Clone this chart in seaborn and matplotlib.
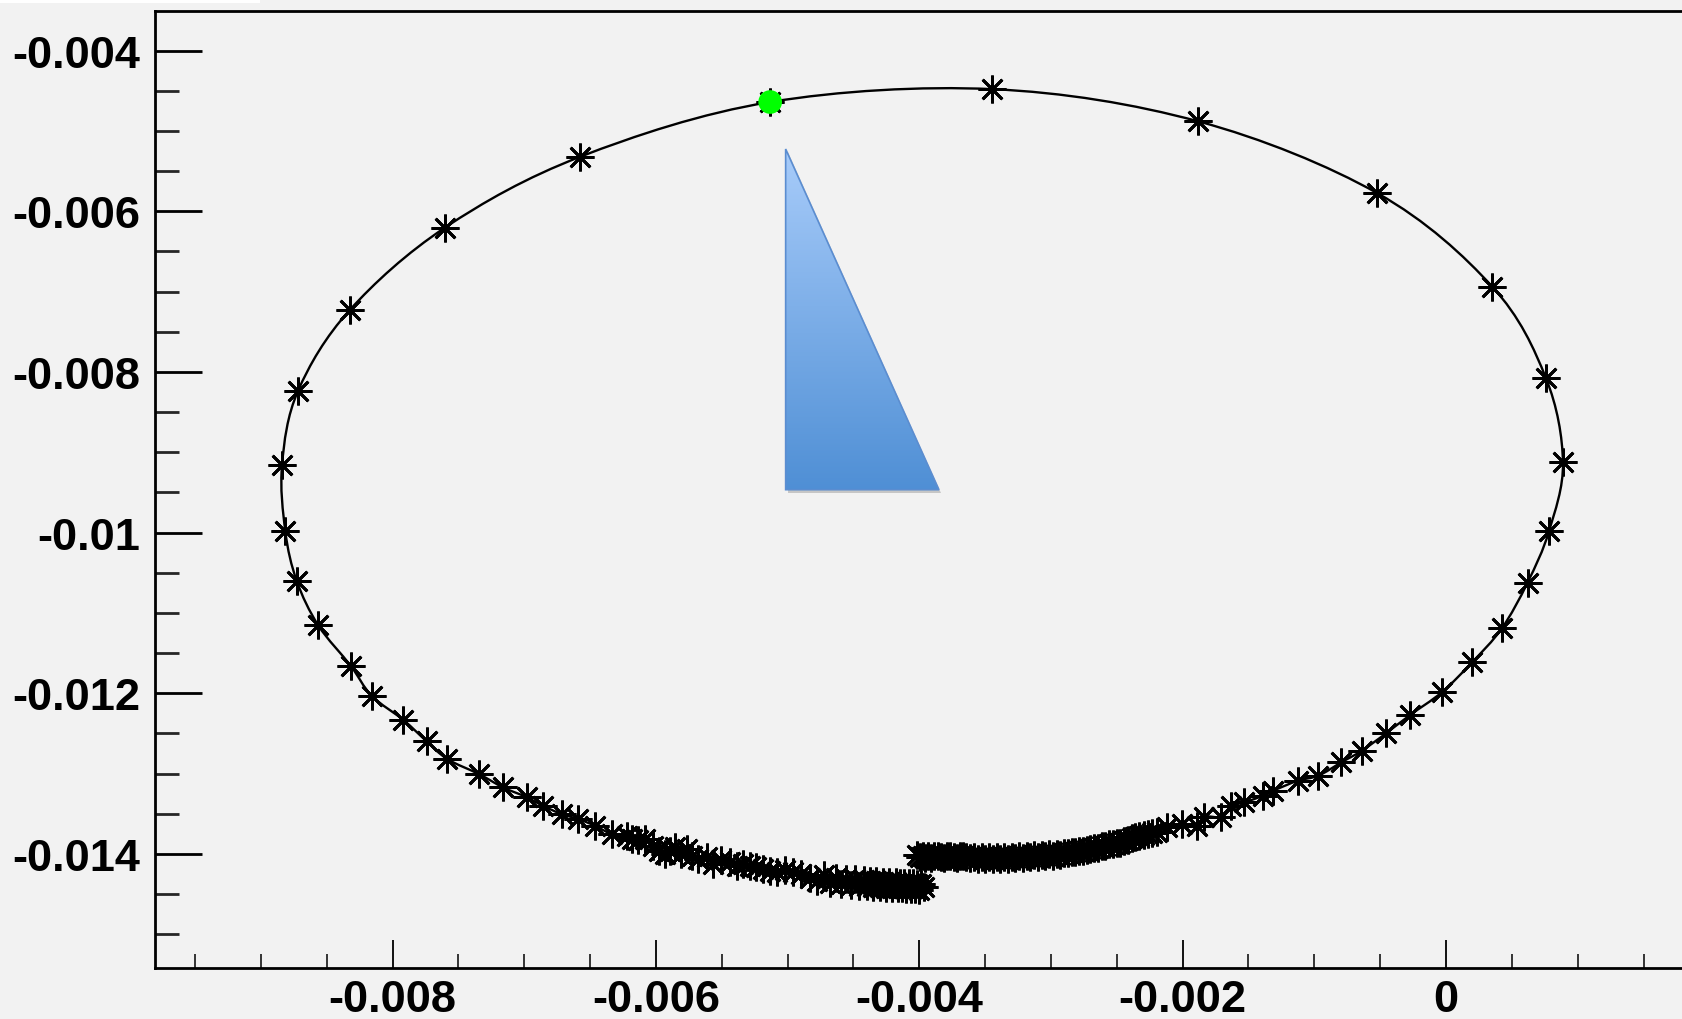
import numpy as np
import matplotlib
matplotlib.use("Agg")
import matplotlib.pyplot as plt
import matplotlib.ticker as mticker
from matplotlib.patches import Polygon, Rectangle, PathPatch
from matplotlib.path import Path
import matplotlib.transforms as mtransforms
import seaborn as sns

# ---------------- data ----------------
# lower-left end -> round the left side -> up to the highlighted point
left_x = [
    -0.0039674, -0.0039837, -0.0040000, -0.0040163, -0.0040326, -0.0040489, -0.0040652, -0.0040814,
    -0.0040977, -0.0041140, -0.0041303, -0.0041466, -0.0041629, -0.0041792, -0.0042036, -0.0042281,
    -0.0042525, -0.0042770, -0.0043014, -0.0043258, -0.0043503, -0.0043747, -0.0043992, -0.0044236,
    -0.0044562, -0.0044888, -0.0045214, -0.0045539, -0.0045947, -0.0046354, -0.0046762, -0.0047250,
    -0.0047739, -0.0048309, -0.0048961, -0.0049572, -0.0050224, -0.0050835, -0.0051324, -0.0051845,
    -0.0052383, -0.0052855, -0.0053360, -0.0053865, -0.0054379, -0.0055030, -0.0055641, -0.0056146,
    -0.0056782, -0.0057230, -0.0057662, -0.0058126, -0.0058558, -0.0058941, -0.0059307, -0.0059755,
    -0.0060203, -0.0060831, -0.0061344, -0.0061841, -0.0062224, -0.0063364, -0.0064627, -0.0065906,
    -0.0067161, -0.0068603, -0.0069816, -0.0071593, -0.0073442, -0.0075845, -0.0077409, -0.0079185,
    -0.0081588, -0.0083185, -0.0085637, -0.0087283, -0.0088146, -0.0088391, -0.0087169, -0.0083258,
    -0.0076008, -0.0065743,
]
left_y = [
    -0.0144138, -0.0143737, -0.0144538, -0.0143737, -0.0144405, -0.0143604, -0.0144405, -0.0143604,
    -0.0144405, -0.0143604, -0.0144271, -0.0143604, -0.0144271, -0.0143470, -0.0144271, -0.0143470,
    -0.0144271, -0.0143470, -0.0144138, -0.0143337, -0.0144138, -0.0143337, -0.0144004, -0.0143203,
    -0.0144004, -0.0143070, -0.0143871, -0.0143070, -0.0143737, -0.0142936, -0.0143604, -0.0142669,
    -0.0143337, -0.0142976, -0.0142469, -0.0142282, -0.0142002, -0.0142282, -0.0142135, -0.0141869,
    -0.0141668, -0.0141468, -0.0141201, -0.0141468, -0.0141041, -0.0140800, -0.0141255, -0.0140427,
    -0.0140627, -0.0140199, -0.0139391, -0.0139999, -0.0139177, -0.0139598, -0.0139999, -0.0139665,
    -0.0138976, -0.0138148, -0.0138263, -0.0138148, -0.0137729, -0.0137516, -0.0136488, -0.0135647,
    -0.0135033, -0.0133991, -0.0132925, -0.0131722, -0.0130053, -0.0128184, -0.0125981, -0.0123311,
    -0.0120306, -0.0116560, -0.0111561, -0.0105986, -0.0099812, -0.0091535, -0.0082323, -0.0072309,
    -0.0062029, -0.0053217,
]
# highlighted point (top of the orbit)
green_x = [-0.0051324]
green_y = [-0.0046409]
# over the top -> down the right side -> along the bottom to the lower-right end
right_x = [
    -0.0034460, -0.0018819, -0.0005214, 0.0003503, 0.0007576, 0.0008880, 0.0007821, 0.0006191,
    0.0004236, 0.0001971, -0.0000326, -0.0002737, -0.0004562, -0.0006403, -0.0007951, -0.0009694,
    -0.0011259, -0.0013116, -0.0013874, -0.0015316, -0.0016326, -0.0017083, -0.0018354, -0.0018933,
    -0.0020073, -0.0021214, -0.0021971, -0.0022322, -0.0022648, -0.0022973, -0.0023299, -0.0023584,
    -0.0023870, -0.0024155, -0.0024440, -0.0024725, -0.0025010, -0.0025295, -0.0025580, -0.0025866,
    -0.0026151, -0.0026436, -0.0026721, -0.0027006, -0.0027291, -0.0027576, -0.0027861, -0.0028147,
    -0.0028432, -0.0028717, -0.0029002, -0.0029287, -0.0029572, -0.0029857, -0.0030142, -0.0030428,
    -0.0030713, -0.0030998, -0.0031283, -0.0031568, -0.0031853, -0.0032138, -0.0032424, -0.0032709,
    -0.0032994, -0.0033279, -0.0033564, -0.0033849, -0.0034134, -0.0034419, -0.0034705, -0.0034990,
    -0.0035275, -0.0035560, -0.0035845, -0.0036130, -0.0036415, -0.0036660, -0.0036904, -0.0037149,
    -0.0037393, -0.0037637, -0.0037882, -0.0038126, -0.0038371, -0.0038615, -0.0038859, -0.0039104,
    -0.0039348, -0.0039552, -0.0039755, -0.0039959, -0.0040163,
]
right_y = [
    -0.0044806, -0.0048812, -0.0057757, -0.0069372, -0.0080721, -0.0091268, -0.0099812, -0.0106221,
    -0.0111922, -0.0116154, -0.0119879, -0.0122710, -0.0124993, -0.0127155, -0.0128597, -0.0130253,
    -0.0130881, -0.0132122, -0.0132750, -0.0133564, -0.0134071, -0.0135366, -0.0135366, -0.0136488,
    -0.0136261, -0.0136688, -0.0137302, -0.0137396, -0.0137462, -0.0137663, -0.0137729, -0.0137930,
    -0.0137996, -0.0138263, -0.0138397, -0.0138597, -0.0138664, -0.0138797, -0.0138797, -0.0138998,
    -0.0139064, -0.0139198, -0.0139198, -0.0139398, -0.0139465, -0.0139598, -0.0139598, -0.0139799,
    -0.0139732, -0.0139932, -0.0139866, -0.0140066, -0.0139999, -0.0140199, -0.0139999, -0.0140199,
    -0.0140133, -0.0140333, -0.0140133, -0.0140400, -0.0140266, -0.0140466, -0.0140266, -0.0140533,
    -0.0140400, -0.0140600, -0.0140400, -0.0140600, -0.0140400, -0.0140600, -0.0140400, -0.0140600,
    -0.0140400, -0.0140600, -0.0140400, -0.0140533, -0.0140400, -0.0140199, -0.0140266, -0.0140466,
    -0.0140400, -0.0140199, -0.0140266, -0.0140466, -0.0140400, -0.0140199, -0.0140266, -0.0140466,
    -0.0140266, -0.0140466, -0.0140266, -0.0140400, -0.0140133,
]

x_major = [-0.008, -0.006, -0.004, -0.002, 0.0]
x_labels = ["-0.008", "-0.006", "-0.004", "-0.002", "0"]
y_major = [-0.014, -0.012, -0.010, -0.008, -0.006, -0.004]
y_labels = ["-0.014", "-0.012", "-0.01", "-0.008", "-0.006", "-0.004"]

traj_x = left_x + green_x + right_x
traj_y = left_y + green_y + right_y

# ---------------- style ----------------
BG = "#f2f2f2"
sns.set_style("ticks")
plt.rcParams["font.family"] = ["Liberation Sans", "DejaVu Sans"]
plt.rcParams["font.weight"] = "bold"

W, H = 1682, 1020
fig = plt.figure(figsize=(W / 100, H / 100), dpi=100, facecolor=BG)
ax = fig.add_axes([155 / W, 51 / H, 1 - 155 / W, (969 - 12) / H])
ax.set_facecolor(BG)

# small white strip at the very top-left of the canvas
fig.patches.append(Rectangle((0, 1 - 4 / H), 260 / W, 4 / H, transform=fig.transFigure,
                             facecolor="white", edgecolor="none", zorder=0))

# smooth connecting curve through the measured points (cubic Bezier segments, like ROOT's "C" option)
P = np.column_stack([traj_x, traj_y])
verts = [tuple(P[0])]
codes = [Path.MOVETO]
n = len(P)
for i in range(n - 1):
    p0 = P[max(i - 1, 0)]
    p1 = P[i]
    p2 = P[i + 1]
    p3 = P[min(i + 2, n - 1)]
    c1 = p1 + (p2 - p0) / 6.0
    c2 = p2 - (p3 - p1) / 6.0
    verts += [tuple(c1), tuple(c2), tuple(p2)]
    codes += [Path.CURVE4, Path.CURVE4, Path.CURVE4]
curve = PathPatch(Path(verts, codes), facecolor="none", edgecolor="black", lw=1.7,
                  transform=ax.transData, zorder=3)
ax.add_patch(curve)

# asterisk markers
sns.lineplot(x=traj_x, y=traj_y, sort=False, estimator=None, color="black", linestyle="none",
             marker=(8, 2, 0), markersize=20, markeredgewidth=2.0, markeredgecolor="black",
             ax=ax, zorder=3.2)
sns.scatterplot(x=green_x, y=green_y, color="#00ff00", s=290, edgecolor="none", ax=ax, zorder=5)

# decorative gradient triangle (axes-fraction coordinates)
tri = [(0.4130, 0.8558), (0.4130, 0.4998), (0.5134, 0.4998)]
shadow = Polygon(tri, closed=True, facecolor="#000000", alpha=0.18, edgecolor="none",
                 transform=mtransforms.offset_copy(ax.transAxes, fig=fig, x=2, y=-3, units="dots"),
                 zorder=3.5)
ax.add_patch(shadow)
poly = Polygon(tri, closed=True, facecolor="none", edgecolor="#5b8dd0", lw=1.2,
               transform=ax.transAxes, zorder=4.2)
ax.add_patch(poly)
top_c = np.array([0xa8, 0xcc, 0xfa]) / 255
bot_c = np.array([0x4f, 0x8f, 0xd5]) / 255
t = np.linspace(0, 1, 256)[:, None]
grad = (top_c[None, :] * (1 - t) + bot_c[None, :] * t)[:, None, :]
im = ax.imshow(grad, extent=[0.4130, 0.5134, 0.4998, 0.8558], transform=ax.transAxes,
               aspect="auto", origin="upper", zorder=4, interpolation="bilinear")
clip = Polygon(tri, closed=True, transform=ax.transAxes, facecolor="none", edgecolor="none")
ax.add_patch(clip)
im.set_clip_path(clip)

# ---------------- axes ----------------
ax.set_xlim(-0.009804, 0.001792)
ax.set_ylim(-0.015419, -0.003508)

ax.xaxis.set_major_locator(mticker.FixedLocator(x_major))
ax.xaxis.set_major_formatter(mticker.FixedFormatter(x_labels))
ax.xaxis.set_minor_locator(mticker.MultipleLocator(0.0005))
ax.yaxis.set_major_locator(mticker.FixedLocator(y_major))
ax.yaxis.set_major_formatter(mticker.FixedFormatter(y_labels))
ax.yaxis.set_minor_locator(mticker.MultipleLocator(0.0005))

ax.tick_params(axis="x", which="major", direction="in", length=20, width=1.3, pad=8,
               labelsize=32.5, colors="black")
ax.tick_params(axis="x", which="minor", direction="in", length=10, width=1.3)
ax.tick_params(axis="y", which="major", direction="in", length=34, width=2, pad=10.5,
               labelsize=32.5, colors="black")
ax.tick_params(axis="y", which="minor", direction="in", length=17, width=2)
for lab in ax.get_xticklabels() + ax.get_yticklabels():
    lab.set_fontweight("bold")

for side in ["left", "top", "bottom"]:
    ax.spines[side].set_visible(True)
    ax.spines[side].set_linewidth(2)
    ax.spines[side].set_color("black")
ax.spines["right"].set_visible(False)
ax.set_xlabel("")
ax.set_ylabel("")

fig.savefig("out.png", dpi=100, facecolor=BG)
